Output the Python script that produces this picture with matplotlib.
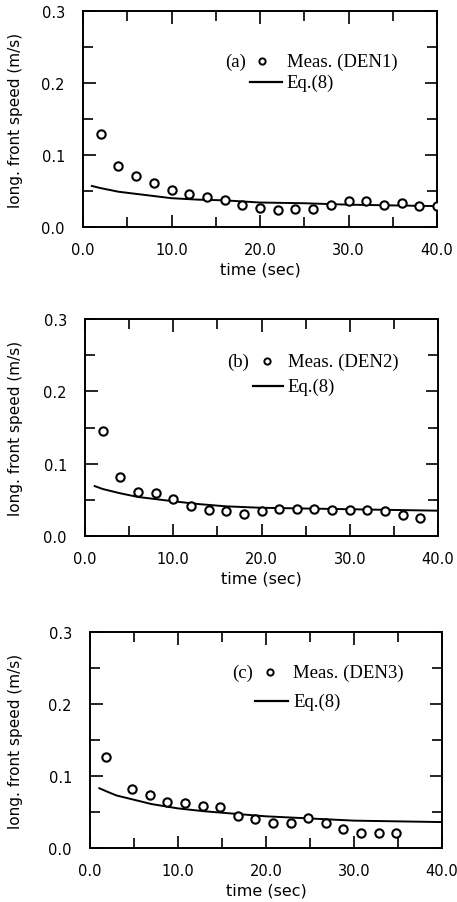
import matplotlib
matplotlib.use("Agg")
import matplotlib.pyplot as plt
from matplotlib.ticker import MultipleLocator, FormatStrFormatter

# ---- data ----
t_a = [2, 4, 6, 8, 10, 12, 14, 16, 18, 20, 22, 24, 26, 28, 30, 32, 34, 36, 38, 40]
meas_a = [0.129, 0.085, 0.071, 0.061, 0.051, 0.046, 0.042, 0.037, 0.031, 0.027,
          0.024, 0.025, 0.025, 0.030, 0.036, 0.036, 0.030, 0.034, 0.029, 0.029]
teq_a = [1, 2, 4, 6, 8, 10, 13, 16, 20, 25, 30, 35, 40]
eq_a = [0.057, 0.054, 0.049, 0.046, 0.043, 0.040, 0.038, 0.037, 0.034, 0.033, 0.031, 0.030, 0.029]

t_b = [2, 4, 6, 8, 10, 12, 14, 16, 18, 20, 22, 24, 26, 28, 30, 32, 34, 36, 38]
meas_b = [0.145, 0.081, 0.061, 0.059, 0.051, 0.041, 0.036, 0.034, 0.031, 0.035,
          0.037, 0.038, 0.038, 0.036, 0.036, 0.036, 0.034, 0.029, 0.025]
teq_b = [1.1, 2, 4, 6, 8, 10, 13, 16, 20, 25, 30, 35, 40]
eq_b = [0.069, 0.065, 0.059, 0.054, 0.051, 0.048, 0.044, 0.041, 0.039, 0.038, 0.037, 0.036, 0.035]

t_c = [1.8, 4.8, 6.8, 8.8, 10.8, 12.8, 14.8, 16.8, 18.8, 20.8, 22.8, 24.8, 26.8, 28.8, 30.8, 32.8, 34.8]
meas_c = [0.127, 0.082, 0.074, 0.064, 0.062, 0.059, 0.057, 0.045, 0.040, 0.035,
          0.035, 0.041, 0.035, 0.026, 0.021, 0.021, 0.021]
teq_c = [1.06, 2, 3, 5, 7, 10, 13, 15, 20, 25, 30, 35, 40]
eq_c = [0.083, 0.078, 0.073, 0.067, 0.061, 0.055, 0.051, 0.049, 0.044, 0.041, 0.038, 0.037, 0.036]

tags = ["(a)", "(b)", "(c)"]
labels = ["Meas. (DEN1)", "Meas. (DEN2)", "Meas. (DEN3)"]
xticks = [0, 10, 20, 30, 40]
yticks = [0.0, 0.1, 0.2, 0.3]

W, H = 457, 903
# axes boxes in pixels: left, top, right, bottom
boxes = [(83, 12, 437, 228), (85, 320, 438, 537), (90, 633, 442, 849)]
# legend layout in axes fraction: tag x, marker x, text x, line x0, line x1, row1 y, row2 y
leg = [(0.401, 0.506, 0.576, 0.472, 0.562, 0.768, 0.671),
       (0.402, 0.516, 0.574, 0.476, 0.561, 0.806, 0.691),
       (0.403, 0.511, 0.577, 0.469, 0.563, 0.815, 0.680)]

fig = plt.figure(figsize=(W / 100, H / 100), dpi=100)
serif = "Liberation Serif"

series = [(t_a, meas_a, teq_a, eq_a), (t_b, meas_b, teq_b, eq_b), (t_c, meas_c, teq_c, eq_c)]

for i, (tm, ym, te, ye) in enumerate(series):
    l, t, r, b = boxes[i]
    ax = fig.add_axes([l / W, 1 - b / H, (r - l) / W, (b - t) / H])
    ax.plot(te, ye, color="black", lw=1.4)
    ax.plot(tm, ym, "o", ms=6, mfc="white", mec="black", mew=1.5, zorder=3)
    ax.set_xlim(0, 40)
    ax.set_ylim(0, 0.3)
    ax.set_xticks(xticks)
    ax.set_yticks(yticks)
    ax.xaxis.set_minor_locator(MultipleLocator(5))
    ax.yaxis.set_minor_locator(MultipleLocator(0.05))
    ax.xaxis.set_major_formatter(FormatStrFormatter("%.1f"))
    ax.yaxis.set_major_formatter(FormatStrFormatter("%.1f"))
    ax.tick_params(which="both", direction="in", top=True, right=True,
                   width=1.2, labelsize=10.5)
    ax.tick_params(axis="y", which="both", pad=13)
    ax.tick_params(axis="x", which="both", pad=11)
    ax.tick_params(which="major", length=9)
    ax.tick_params(which="minor", length=7)
    for s in ax.spines.values():
        s.set_linewidth(1.4)
    ax.set_xlabel("time (sec)", fontsize=11.5, labelpad=3)
    ax.set_ylabel("long. front speed (m/s)", fontsize=11)
    ax.yaxis.set_label_coords((23 - l) / (r - l), 0.5)
    # legend-like annotation
    tx, mx, lx, x0, x1, y1, y2 = leg[i]
    ax.text(tx, y1, tags[i], transform=ax.transAxes, fontsize=13.5,
            family=serif, va="center", ha="left")
    ax.plot([mx], [y1], "o", ms=4.5, mfc="white", mec="black", mew=1.4,
            transform=ax.transAxes)
    ax.text(lx, y1, labels[i], transform=ax.transAxes, fontsize=13.5,
            family=serif, va="center", ha="left")
    ax.plot([x0, x1], [y2, y2], color="black", lw=1.6,
            transform=ax.transAxes)
    ax.text(lx, y2, "Eq.(8)", transform=ax.transAxes, fontsize=13.5,
            family=serif, va="center", ha="left")

fig.savefig("out.png", dpi=100)
